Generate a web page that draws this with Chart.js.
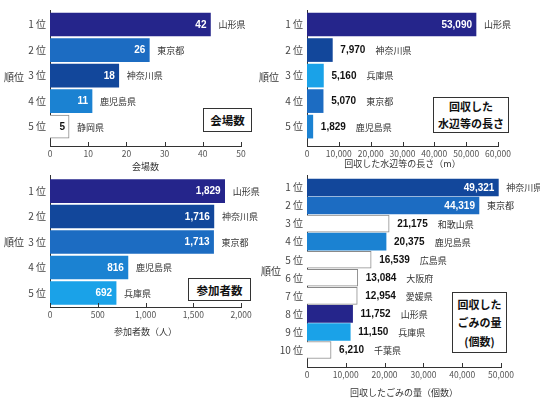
<!DOCTYPE html>
<html>
<head>
<meta charset="utf-8">
<script src="https://cdn.jsdelivr.net/npm/chart.js@4"></script>
<style>
  body { margin: 0; background: #fff; }
  #wrap { position: relative; width: 540px; height: 404px; font-family: 'Noto Sans CJK JP', sans-serif; }
  #wrap canvas { position: absolute; left: 0; top: 0; }
  .lab { position: absolute; font-size: 10px; color: #333; }
  .box { position: absolute; border: 1.5px solid #333; background: #fff; font-weight: bold; color: #111;
         font-size: 11px; text-align: center; box-sizing: border-box; white-space: nowrap;
         display: flex; flex-direction: column; justify-content: center; }
</style>
</head>
<body>
<div id="wrap">
  <canvas id="c1" width="540" height="404"></canvas>
  <canvas id="c2" width="540" height="404"></canvas>
  <canvas id="c3" width="540" height="404"></canvas>
  <canvas id="c4" width="540" height="404"></canvas>
  <div class="lab" style="left:4px;top:69px">順位</div>
  <div class="lab" style="left:259px;top:69px">順位</div>
  <div class="lab" style="left:4px;top:234px">順位</div>
  <div class="lab" style="left:261px;top:263px">順位</div>
  <div class="box" style="left:203px;top:108px;width:49px;height:24px;font-size:11.5px">会場数</div>
  <div class="box" style="left:433px;top:97px;width:76px;height:36px;line-height:17px"><div>回収した</div><div>水辺等の長さ</div></div>
  <div class="box" style="left:188px;top:278px;width:63px;height:23px;font-size:11.5px">参加者数</div>
  <div class="box" style="left:452px;top:292px;width:55px;height:61px;line-height:18.5px"><div>回収した</div><div>ごみの量</div><div>(個数)</div></div>
</div>
<script>
// data
const ranks5 = ['1 位', '2 位', '3 位', '4 位', '5 位'];
const ranks10 = ['1 位', '2 位', '3 位', '4 位', '5 位', '6 位', '7 位', '8 位', '9 位', '10 位'];

const venuePrefs = ['山形県', '東京都', '神奈川県', '鹿児島県', '静岡県'];
const venueCounts = [42, 26, 18, 11, 5];
const venueTicks = [0, 10, 20, 30, 40, 50];

const shorePrefs = ['山形県', '神奈川県', '兵庫県', '東京都', '鹿児島県'];
const shoreLengths = [53090, 7970, 5160, 5070, 1829];
const shoreTicks = [0, 10000, 20000, 30000, 40000, 50000, 60000];

const peoplePrefs = ['山形県', '神奈川県', '東京都', '鹿児島県', '兵庫県'];
const peopleCounts = [1829, 1716, 1713, 816, 692];
const peopleTicks = [0, 500, 1000, 1500, 2000];

const trashPrefs = ['神奈川県', '東京都', '和歌山県', '鹿児島県', '広島県', '大阪府', '愛媛県', '山形県', '兵庫県', '千葉県'];
const trashCounts = [49321, 44319, 21175, 20375, 16539, 13084, 12954, 11752, 11150, 6210];
const trashTicks = [0, 10000, 20000, 30000, 40000, 50000];

// colours per prefecture, everything else is a white bar
const prefColors = {
  '山形県': '#25258b',
  '神奈川県': '#12479b',
  '東京都': '#1c6cc2',
  '鹿児島県': '#1b82d2',
  '兵庫県': '#1aa2e8'
};

const fmt = v => v.toLocaleString('en-US');
const numFont = 'bold 10px "Liberation Sans", Arial, sans-serif';
const prefFont = '9px "Noto Sans CJK JP", sans-serif';

const barLabels = {
  id: 'barLabels',
  afterDatasetsDraw(chart) {
    const ctx = chart.ctx;
    const cfg = chart.options.plugins.barLabels;
    const meta = chart.getDatasetMeta(0);
    ctx.save();
    ctx.textBaseline = 'middle';
    meta.data.forEach((bar, i) => {
      const v = cfg.values[i];
      const white = !prefColors[cfg.prefs[i]];
      const y = bar.y + 0.5;
      ctx.font = numFont;
      let x;
      if (i < cfg.insideCount) {
        ctx.textAlign = 'right';
        ctx.fillStyle = white ? '#111' : '#fff';
        ctx.fillText(fmt(v), bar.x - 4, y);
        x = bar.x + cfg.prefGap;
      } else {
        ctx.textAlign = 'left';
        ctx.fillStyle = '#111';
        const t = fmt(v);
        ctx.fillText(t, bar.x + 8, y);
        x = bar.x + 8 + ctx.measureText(t).width + 10;
      }
      ctx.textAlign = 'left';
      ctx.font = prefFont;
      ctx.fillStyle = '#333';
      ctx.fillText(cfg.prefs[i], x, y);
    });
    // small tick marks pointing up from the value axis
    const xs = chart.scales.x;
    ctx.strokeStyle = '#333';
    ctx.lineWidth = 1;
    xs.ticks.forEach(t => {
      const px = Math.round(xs.getPixelForValue(t.value)) + 0.5;
      ctx.beginPath();
      ctx.moveTo(px, xs.top);
      ctx.lineTo(px, xs.top - 4);
      ctx.stroke();
    });
    ctx.restore();
  }
};

function makeChart(id, g) {
  return new Chart(document.getElementById(id), {
    type: 'bar',
    data: {
      datasets: [{
        data: g.values.map((v, i) => ({ x: v, y: i })),
        backgroundColor: g.prefs.map(p => prefColors[p] || '#fff'),
        borderColor: g.prefs.map(p => prefColors[p] ? prefColors[p] : '#8a8a8a'),
        borderWidth: g.prefs.map(p => prefColors[p] ? 0 : 1),
        barThickness: g.thick
      }]
    },
    options: {
      indexAxis: 'y',
      responsive: false,
      animation: false,
      layout: {
        padding: { left: g.left - g.yW, right: 540 - g.right, top: g.top, bottom: 404 - g.bottom - g.xH }
      },
      scales: {
        x: {
          type: 'linear',
          min: 0,
          max: g.ticks[g.ticks.length - 1],
          afterBuildTicks: s => { s.ticks = g.ticks.map(v => ({ value: v })); },
          afterFit: s => { s.height = g.xH; s.paddingLeft = 0; s.paddingRight = 0; },
          grid: { display: false, drawTicks: false },
          border: { display: true, color: '#333', width: 1 },
          ticks: { padding: 3, color: '#555', maxRotation: 0, autoSkip: false,
                   font: { size: 8.5, family: 'Noto Sans CJK JP' }, callback: v => fmt(v) },
          title: { display: true, text: g.title, color: '#333', padding: 0, font: { size: 9, family: 'Noto Sans CJK JP' } }
        },
        y: {
          type: 'linear',
          reverse: true,
          offset: false,
          min: g.yMin,
          max: g.yMax,
          afterBuildTicks: s => { s.ticks = g.ranks.map((r, i) => ({ value: i })); },
          afterFit: s => { s.width = g.yW; s.paddingTop = 0; s.paddingBottom = 0; },
          grid: { display: false, drawTicks: false },
          border: { display: true, color: '#333', width: 1 },
          ticks: { padding: 4, color: '#444', autoSkip: false, font: { size: 10, family: 'Noto Sans CJK JP' }, callback: v => g.ranks[v] }
        }
      },
      plugins: {
        legend: { display: false },
        tooltip: { enabled: false },
        barLabels: { values: g.values, prefs: g.prefs, insideCount: g.insideCount, prefGap: 8 }
      }
    },
    plugins: [barLabels]
  });
}

makeChart('c1', {
  values: venueCounts, prefs: venuePrefs, ranks: ranks5, ticks: venueTicks, title: '会場数',
  left: 50, right: 241, top: 10, bottom: 146, yW: 50, xH: 26,
  yMin: -0.57, yMax: 4.76, thick: 23, insideCount: 5
});
makeChart('c2', {
  values: shoreLengths, prefs: shorePrefs, ranks: ranks5, ticks: shoreTicks, title: '回収した水辺等の長さ（m）',
  left: 307, right: 498, top: 10, bottom: 146, yW: 40, xH: 23,
  yMin: -0.57, yMax: 4.76, thick: 23, insideCount: 1
});
makeChart('c3', {
  values: peopleCounts, prefs: peoplePrefs, ranks: ranks5, ticks: peopleTicks, title: '参加者数（人）',
  left: 50, right: 241, top: 175, bottom: 307, yW: 50, xH: 30,
  yMin: -0.63, yMax: 4.55, thick: 23, insideCount: 5
});
makeChart('c4', {
  values: trashCounts, prefs: trashPrefs, ranks: ranks10, ticks: trashTicks, title: '回収したごみの量（個数）',
  left: 307, right: 501, top: 175, bottom: 367, yW: 40, xH: 31,
  yMin: -0.69, yMax: 9.94, thick: 17, insideCount: 2
});
</script>
</body>
</html>
